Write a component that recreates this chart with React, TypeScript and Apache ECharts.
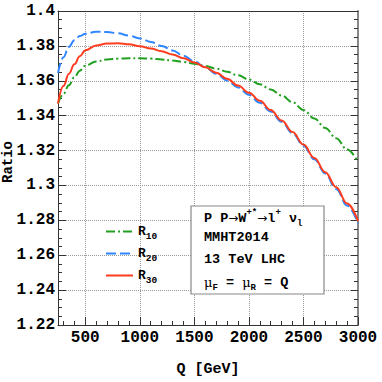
import React, { useEffect, useRef } from 'react';
import * as echarts from 'echarts';

// ---- data ----
const Q = [250, 300, 350, 400, 450, 500, 600, 700, 800, 900, 1000, 1100, 1200, 1300, 1400, 1500,
  1600, 1700, 1800, 1900, 2000, 2100, 2200, 2300, 2400, 2500, 2600, 2700, 2800, 2900, 3000];

const R10 = [1.3470, 1.3525, 1.3575, 1.3620, 1.3658, 1.3686, 1.3710, 1.3722, 1.3727, 1.3729, 1.3729,
  1.3727, 1.3722, 1.3716, 1.3708, 1.3698, 1.3685, 1.3670, 1.3652, 1.3631, 1.3607, 1.3580, 1.3550,
  1.3516, 1.3477, 1.3433, 1.3384, 1.3330, 1.3271, 1.3206, 1.3135];

const R20 = [1.3645, 1.3735, 1.3795, 1.3833, 1.3856, 1.3869, 1.3881, 1.3880, 1.3872, 1.3859, 1.3843,
  1.3823, 1.3800, 1.3774, 1.3744, 1.3711, 1.3677, 1.3640, 1.3602, 1.3562, 1.3520, 1.3474, 1.3424,
  1.3365, 1.3300, 1.3228, 1.3150, 1.3068, 1.2980, 1.2885, 1.2783];

const R30 = [1.3470, 1.3570, 1.3640, 1.3695, 1.3740, 1.3775, 1.3802, 1.3813, 1.3815, 1.3809, 1.3798,
  1.3785, 1.3769, 1.3750, 1.3729, 1.3705, 1.3677, 1.3646, 1.3611, 1.3573, 1.3532, 1.3485, 1.3432,
  1.3372, 1.3306, 1.3234, 1.3157, 1.3076, 1.2990, 1.2896, 1.2795];

const SERIES_NAMES = ['R10', 'R20', 'R30'];
const X_MAJOR = [500, 1000, 1500, 2000, 2500, 3000];
const X_MINOR = [300, 400, 600, 700, 800, 900, 1100, 1200, 1300, 1400, 1600, 1700, 1800, 1900,
  2100, 2200, 2300, 2400, 2600, 2700, 2800, 2900];
const Y_MIN = 1.22;
const Y_MAX = 1.4;
const Y_STEP = 0.02;
const X_MIN = 250;
const X_MAX = 3000;

const Y_TITLE = 'Ratio';
const X_TITLE = 'Q [GeV]';
const INFO_LINES = [
  '{b|P P}{a|→}{b|W}{sp|+*}{a|→}{b|l}{sp|+}{b| ν}{sb|l}',
  '{b|MMHT2014}',
  '{b|13 TeV LHC}',
  '{m|μ}{sb|F}{b| = }{m|μ}{sb|R}{b| = Q}',
];

const FONT = '"Liberation Mono", "DejaVu Sans Mono", monospace';
const COLORS = ['#22a022', '#2f86ff', '#ff3d1e'];
const AXIS_COLOR = '#333';

export default function App() {
  const ref = useRef<HTMLDivElement>(null);

  useEffect(() => {
    const chart = echarts.init(ref.current!, null, { renderer: 'svg' });

    const richInfo = {
      b: { fontFamily: FONT, fontWeight: 'bold', fontSize: 13.5, color: '#000', lineHeight: 20 },
      a: { fontFamily: '"DejaVu Sans", sans-serif', fontSize: 12, color: '#000', lineHeight: 20 },
      m: { fontFamily: '"DejaVu Serif", serif', fontSize: 13, color: '#000', lineHeight: 20 },
      sp: { fontFamily: FONT, fontWeight: 'bold', fontSize: 9, color: '#000', lineHeight: 9, verticalAlign: 'top' },
      sb: { fontFamily: FONT, fontWeight: 'bold', fontSize: 9, color: '#000', lineHeight: 9, verticalAlign: 'bottom' },
    };

    const infoY = [218, 237.5, 259, 282];

    const option: any = {
      animation: false,
      backgroundColor: '#fff',
      grid: { left: 58, right: 24, top: 11, bottom: 57, containLabel: false },
      legend: {
        orient: 'vertical',
        left: 100,
        top: 220,
        itemWidth: 27,
        itemHeight: 14,
        itemGap: 5.5,
        selectedMode: false,
        data: SERIES_NAMES,
        itemStyle: { opacity: 0 },
        formatter: (name: string) => `{r|${name.slice(0, 1)}}{s|${name.slice(1)}}`,
        textStyle: {
          rich: {
            r: { fontFamily: FONT, fontWeight: 'bold', fontSize: 13, color: '#000', lineHeight: 20 },
            s: { fontFamily: FONT, fontWeight: 'bold', fontSize: 9.5, color: '#000', lineHeight: 9, verticalAlign: 'bottom' },
          },
        },
      },
      xAxis: [
        {
          type: 'value',
          min: X_MIN,
          max: X_MAX,
          position: 'bottom',
          name: X_TITLE,
          nameLocation: 'middle',
          nameGap: 37,
          nameTextStyle: { fontFamily: FONT, fontWeight: 'bold', fontSize: 15, color: '#000' },
          axisLine: { show: true, lineStyle: { color: AXIS_COLOR, width: 1 } },
          axisTick: { show: true, inside: true, length: 8, customValues: X_MAJOR, lineStyle: { color: AXIS_COLOR } },
          axisLabel: {
            customValues: X_MAJOR,
            formatter: (v: number) => String(v),
            fontFamily: FONT, fontWeight: 'bold', fontSize: 16, color: '#000', margin: 5,
          },
          splitLine: { show: true, lineStyle: { type: 'dotted', color: '#999', width: 1 } },
        },
        {
          type: 'value',
          min: X_MIN,
          max: X_MAX,
          position: 'bottom',
          axisLine: { show: false },
          axisTick: { show: true, inside: true, length: 4, customValues: X_MINOR, lineStyle: { color: AXIS_COLOR } },
          axisLabel: { show: false },
          splitLine: { show: false },
        },
        {
          type: 'value',
          min: X_MIN,
          max: X_MAX,
          position: 'top',
          axisLine: { show: true, lineStyle: { color: AXIS_COLOR, width: 1 } },
          axisTick: { show: false },
          axisLabel: { show: false },
          splitLine: { show: false },
        },
      ],
      yAxis: [
        {
          type: 'value',
          min: Y_MIN,
          max: Y_MAX,
          interval: Y_STEP,
          position: 'left',
          axisLine: { show: true, lineStyle: { color: AXIS_COLOR, width: 1 } },
          axisTick: { show: true, inside: true, length: 8, lineStyle: { color: AXIS_COLOR } },
          minorTick: { show: true, splitNumber: 4, length: 4, lineStyle: { color: AXIS_COLOR } },
          axisLabel: { fontFamily: FONT, fontWeight: 'bold', fontSize: 16, color: '#000', margin: 3 },
          splitLine: { show: true, lineStyle: { type: 'dotted', color: '#999', width: 1 } },
        },
        {
          type: 'value',
          min: Y_MIN,
          max: Y_MAX,
          interval: Y_STEP,
          position: 'right',
          axisLine: { show: true, lineStyle: { color: '#888', width: 2 } },
          axisTick: { show: true, inside: true, length: 7, lineStyle: { color: AXIS_COLOR } },
          minorTick: { show: true, splitNumber: 4, length: 4, lineStyle: { color: AXIS_COLOR } },
          axisLabel: { show: false },
          splitLine: { show: false },
        },
      ],
      series: [R10, R20, R30].map((vals, i) => ({
        name: SERIES_NAMES[i],
        type: 'line',
        xAxisIndex: 0,
        yAxisIndex: 0,
        data: Q.map((q, j) => [q, vals[j]]),
        showSymbol: false,
        symbol: 'none',
        smooth: 0.4,
        smoothMonotone: 'x',
        z: 3 + i,
        lineStyle: {
          color: COLORS[i],
          width: 2,
          type: i === 0 ? [9, 3, 2, 3] : i === 1 ? [10, 4] : 'solid',
        },
        itemStyle: { color: COLORS[i] },
      })),
      graphic: [
        {
          type: 'text',
          x: 8,
          y: 162,
          rotation: Math.PI / 2,
          style: {
            text: Y_TITLE,
            align: 'center',
            verticalAlign: 'middle',
            fontFamily: FONT,
            fontWeight: 'bold',
            fontSize: 14,
            fill: '#000',
          },
        },
        {
          type: 'rect',
          z: 100,
          shape: { x: 191, y: 206, width: 133, height: 88 },
          style: { fill: '#fff', stroke: '#888', lineWidth: 1.2 },
        },
        ...INFO_LINES.map((t, i) => ({
          type: 'text',
          z: 101,
          x: 204,
          y: infoY[i],
          style: {
            text: t,
            verticalAlign: 'middle',
            align: 'left',
            rich: richInfo,
            fontFamily: FONT,
            fontSize: 13.5,
            fontWeight: 'bold',
            fill: '#000',
          },
        })),
      ],
    };

    chart.setOption(option);
    return () => chart.dispose();
  }, []);

  return (
    <div
      ref={ref}
      style={{ position: 'absolute', left: 0, top: 0, width: 382, height: 382, background: '#fff' }}
    />
  );
}
